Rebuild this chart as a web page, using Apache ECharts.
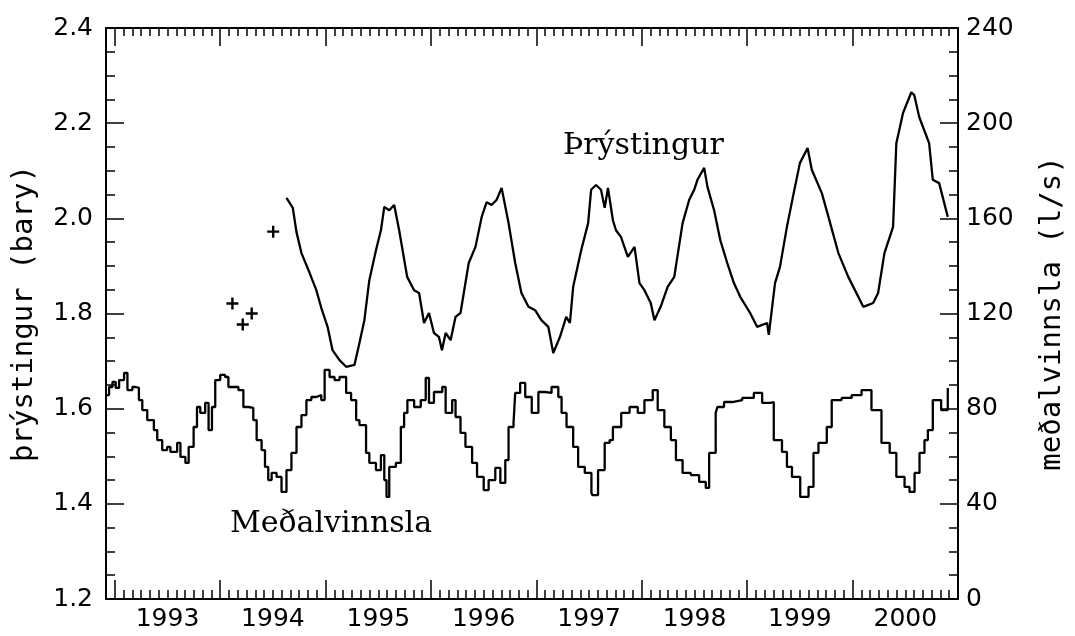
<!DOCTYPE html>
<html><head><meta charset="utf-8">
<script src="https://cdn.jsdelivr.net/npm/echarts@6/dist/echarts.min.js"></script>
<style>html,body{margin:0;padding:0;background:#fff}#c{width:1075px;height:636px}</style>
</head><body><div id="c"></div>
<script>
const yearLabels = ['1993','1994','1995','1996','1997','1998','1999','2000'];

const pressureTime = [1994.629,1994.689,1994.724,1994.771,1994.849,1994.912,1994.959,1995.019,1995.066,1995.132,
1995.195,1995.274,1995.321,1995.368,1995.415,1995.478,1995.525,1995.557,1995.604,1995.651,
1995.698,1995.774,1995.840,1995.887,1995.934,1995.981,1996.028,1996.075,1996.104,1996.139,
1996.186,1996.233,1996.280,1996.358,1996.422,1996.481,1996.528,1996.575,1996.623,1996.670,
1996.736,1996.799,1996.858,1996.925,1996.988,1997.047,1997.113,1997.160,1997.224,1997.283,
1997.318,1997.349,1997.425,1997.491,1997.519,1997.566,1997.613,1997.648,1997.679,1997.726,
1997.755,1997.802,1997.868,1997.931,1997.978,1998.025,1998.085,1998.120,1998.179,1998.245,
1998.308,1998.387,1998.450,1998.497,1998.528,1998.592,1998.623,1998.686,1998.745,1998.811,
1998.874,1998.934,1999.028,1999.094,1999.189,1999.205,1999.264,1999.311,1999.377,1999.441,
1999.500,1999.573,1999.613,1999.708,1999.771,1999.865,1999.959,2000.054,2000.101,2000.195,
2000.242,2000.302,2000.384,2000.415,2000.478,2000.557,2000.585,2000.632,2000.726,2000.761,
2000.821,2000.903];
const pressureBar = [2.043,2.022,1.971,1.927,1.885,1.849,1.812,1.772,1.723,1.702,
1.688,1.692,1.738,1.786,1.870,1.933,1.975,2.024,2.017,2.028,
1.975,1.877,1.849,1.843,1.780,1.801,1.759,1.751,1.723,1.759,
1.744,1.793,1.801,1.906,1.940,2.003,2.034,2.028,2.039,2.064,
1.990,1.906,1.843,1.814,1.807,1.786,1.772,1.717,1.751,1.793,
1.780,1.856,1.933,1.990,2.060,2.070,2.060,2.022,2.064,1.996,
1.975,1.961,1.919,1.940,1.864,1.849,1.822,1.786,1.814,1.856,
1.877,1.990,2.039,2.060,2.081,2.106,2.066,2.017,1.954,1.906,
1.864,1.835,1.801,1.772,1.780,1.755,1.864,1.898,1.982,2.053,
2.116,2.148,2.102,2.053,2.003,1.927,1.877,1.835,1.814,1.822,
1.843,1.927,1.982,2.158,2.221,2.265,2.259,2.213,2.158,2.081,
2.074,2.003];

const plusTime = [1994.116, 1994.214, 1994.299, 1994.503];
const plusBar = [1.821, 1.777, 1.800, 1.972];

const flowTime = [1992.925,1992.946,1992.978,1993.009,1993.041,1993.088,1993.120,1993.167,1993.198,1993.229,
1993.261,1993.308,1993.371,1993.403,1993.450,1993.497,1993.528,1993.592,1993.623,1993.670,
1993.701,1993.748,1993.780,1993.811,1993.858,1993.890,1993.922,1993.953,1994.000,1994.047,
1994.078,1994.125,1994.173,1994.220,1994.267,1994.314,1994.346,1994.393,1994.425,1994.456,
1994.488,1994.535,1994.582,1994.629,1994.676,1994.724,1994.771,1994.818,1994.865,1994.912,
1994.959,1994.991,1995.038,1995.085,1995.132,1995.195,1995.242,1995.290,1995.321,1995.384,
1995.415,1995.478,1995.525,1995.557,1995.578,1995.604,1995.667,1995.714,1995.745,1995.776,
1995.840,1995.903,1995.950,1995.981,1996.028,1996.107,1996.139,1996.201,1996.233,1996.280,
1996.327,1996.390,1996.437,1996.500,1996.547,1996.610,1996.658,1996.705,1996.736,1996.783,
1996.799,1996.846,1996.894,1996.956,1997.019,1997.082,1997.144,1997.208,1997.239,1997.286,
1997.349,1997.396,1997.459,1997.522,1997.531,1997.585,1997.648,1997.695,1997.726,1997.805,
1997.884,1997.962,1998.025,1998.104,1998.151,1998.214,1998.276,1998.324,1998.387,1998.465,
1998.544,1998.607,1998.639,1998.701,1998.717,1998.780,1998.858,1998.953,1999.063,1999.142,
1999.220,1999.252,1999.330,1999.377,1999.425,1999.503,1999.582,1999.629,1999.676,1999.755,
1999.802,1999.896,1999.991,2000.085,2000.179,2000.274,2000.352,2000.415,2000.493,2000.540,
2000.588,2000.635,2000.682,2000.714,2000.761,2000.840,2000.903];
const flowLps = [85.7,89.1,91.2,88.7,92.0,95.0,87.8,89.1,88.7,83.6,
79.4,75.2,71.0,66.8,62.6,63.9,61.8,65.6,59.7,57.2,
63.9,72.3,80.7,78.2,82.4,71.0,80.7,92.0,94.2,93.3,
89.1,89.1,87.8,80.7,80.3,75.2,66.8,62.6,55.5,50.0,
53.0,51.3,45.0,54.2,61.4,72.3,77.3,83.6,84.9,85.7,
83.6,96.3,93.3,92.0,93.3,86.6,83.6,75.2,73.1,61.4,
57.2,54.2,60.5,50.0,42.9,55.5,57.2,72.3,78.2,83.6,
80.7,83.6,92.9,82.4,87.0,89.1,78.2,83.6,76.5,69.8,
63.9,57.2,51.3,45.8,50.0,55.1,48.8,58.4,72.3,74.0,
86.6,90.8,84.9,78.2,87.0,86.6,89.1,84.9,78.2,72.3,
63.9,55.5,53.0,44.6,43.7,54.2,65.6,66.8,72.3,78.2,
80.7,78.2,83.6,87.8,79.4,72.3,66.8,58.4,53.0,52.1,
49.2,46.7,61.4,78.2,80.7,82.8,83.6,84.5,86.6,82.4,
82.8,66.8,61.8,55.5,51.3,42.9,47.1,61.4,65.6,72.3,
83.6,84.5,85.7,87.8,79.4,65.6,61.4,51.3,47.1,45.0,
53.0,61.4,66.8,71.0,83.6,79.4,88.7];

// month categories: Dec 1992 ... Jan 2001
const monthCats = ['1992-12'];
yearLabels.forEach(y => { for (let m = 1; m <= 12; m++) monthCats.push(y + '-' + String(m).padStart(2,'0')); });
monthCats.push('2001-01');
const isJan = i => (i - 1) % 12 === 0;
const isJuly = i => (i - 7) % 12 === 0;

const BLACK = '#000';
const tickFont = 'DejaVu Sans';
const lineSt = {color: BLACK, width: 2};
const tickSt = {color: BLACK, width: 1.5};

function monthAxis(pos, showLine, len, intervalFn, labels) {
  return {
    type: 'category', position: pos, data: monthCats, boundaryGap: false,
    axisLine: {show: showLine, onZero: false, lineStyle: lineSt},
    axisTick: {show: true, inside: true, length: len, interval: intervalFn, lineStyle: tickSt},
    axisLabel: labels ? {show: true, interval: (i) => isJuly(i), formatter: v => v.slice(0,4),
      color: BLACK, fontFamily: tickFont, fontSize: 25, margin: 8} : {show: false},
    splitLine: {show: false}
  };
}

const chart = echarts.init(document.getElementById('c'), null, {renderer: 'canvas'});
chart.setOption({
  animation: false,
  backgroundColor: '#fff',
  grid: {left: 106, top: 28, width: 856, height: 571, containLabel: false},
  xAxis: [
    {type: 'value', min: 1992.9167, max: 2001, show: false},
    monthAxis('bottom', true, 9, 0, false),
    monthAxis('bottom', false, 19, (i) => isJan(i), true),
    monthAxis('top', true, 8, 0, false),
    monthAxis('top', false, 18, (i) => isJan(i), false)
  ],
  yAxis: [
    {type: 'value', position: 'left', min: 1.2, max: 2.4, interval: 0.2,
     axisLine: {show: true, lineStyle: lineSt},
     axisTick: {show: true, inside: true, length: 18, lineStyle: tickSt},
     minorTick: {show: true, splitNumber: 4, length: 9, lineStyle: tickSt},
     splitLine: {show: false},
     axisLabel: {formatter: v => v.toFixed(1), color: BLACK, fontFamily: tickFont, fontSize: 25, margin: 13},
     name: 'þrýstingur (bary)', nameLocation: 'middle', nameRotate: 90, nameGap: 67,
     nameTextStyle: {color: BLACK, fontFamily: 'DejaVu Sans Mono', fontSize: 29}},
    {type: 'value', position: 'right', min: 0, max: 240, interval: 40,
     axisLine: {show: true, lineStyle: lineSt},
     axisTick: {show: true, inside: true, length: 18, lineStyle: tickSt},
     minorTick: {show: true, splitNumber: 4, length: 9, lineStyle: tickSt},
     splitLine: {show: false},
     axisLabel: {color: BLACK, fontFamily: tickFont, fontSize: 25, margin: 8},
     name: 'meðalvinnsla (l/s)', nameLocation: 'middle', nameRotate: 90, nameGap: 80,
     nameTextStyle: {color: BLACK, fontFamily: 'DejaVu Sans Mono', fontSize: 29}}
  ],
  series: [
    {type: 'line', name: 'Þrýstingur', xAxisIndex: 0, yAxisIndex: 0, showSymbol: false,
     data: pressureTime.map((t, i) => [t, pressureBar[i]]),
     lineStyle: {color: BLACK, width: 2.3}},
    {type: 'scatter', name: 'mælingar', xAxisIndex: 0, yAxisIndex: 0,
     symbol: 'path://M4,0H6V4H10V6H6V10H4V6H0V4H4Z', symbolSize: 12,
     itemStyle: {color: BLACK, opacity: 1},
     data: plusTime.map((t, i) => [t, plusBar[i]])},
    {type: 'line', name: 'Meðalvinnsla', xAxisIndex: 0, yAxisIndex: 1, showSymbol: false, step: 'end',
     data: flowTime.map((t, i) => [t, flowLps[i]]),
     lineStyle: {color: BLACK, width: 2.3}}
  ],
  graphic: [
    {type: 'text', left: 563, top: 131, style: {text: 'Þrýstingur', fill: BLACK, font: '30px "DejaVu Serif"'}},
    {type: 'text', left: 230, top: 509, style: {text: 'Meðalvinnsla', fill: BLACK, font: '30px "DejaVu Serif"'}}
  ]
});
</script></body></html>
